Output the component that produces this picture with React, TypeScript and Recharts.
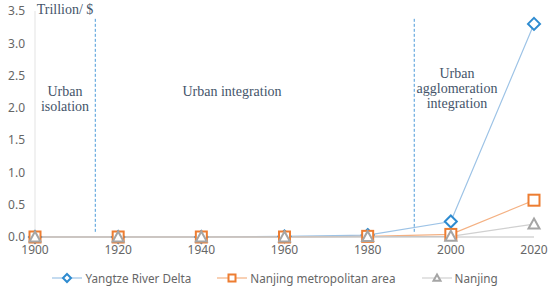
import React from "react";
import { LineChart, Line, XAxis, YAxis, ReferenceLine } from "recharts";

const YEARS = [1900, 1920, 1940, 1960, 1980, 2000, 2020];
const YANGTZE = [0, 0, 0, 0.01, 0.03, 0.24, 3.3];
const NANJING_MA = [0, 0, 0, 0, 0.01, 0.04, 0.57];
const NANJING = [0, 0, 0, 0, 0.005, 0.01, 0.2];
const Y_TICKS = [0, 0.5, 1, 1.5, 2, 2.5, 3, 3.5];
const PHASE_BREAKS = [1914.5, 1991.2];

const data = YEARS.map((year, i) => ({
  year,
  yrd: YANGTZE[i],
  nma: NANJING_MA[i],
  nj: NANJING[i],
}));

const TICK = { fontSize: 12, fill: "#666", fontFamily: "Noto Sans" };
const SERIF = "'Liberation Serif', 'DejaVu Serif', serif";
const NOTE = "#44546a";

const SERIES = [
  { key: "yrd", name: "Yangtze River Delta", line: "#9dc3e6", mark: "#2e8bd0", shape: "diamond" },
  { key: "nma", name: "Nanjing metropolitan area", line: "#f4b183", mark: "#ed7d31", shape: "square" },
  { key: "nj", name: "Nanjing", line: "#d0d0d0", mark: "#a5a5a5", shape: "triangle" },
];

function Marker({ cx, cy, shape, color, size = 5.5 }: any) {
  if (cx == null || cy == null) return null;
  if (shape === "diamond") {
    const s = size + 0.5;
    return <path d={`M${cx},${cy - s}L${cx + s},${cy}L${cx},${cy + s}L${cx - s},${cy}Z`} fill="#fff" stroke={color} strokeWidth={2} />;
  }
  if (shape === "square") {
    return <rect x={cx - size} y={cy - size} width={size * 2} height={size * 2} fill="#fff" stroke={color} strokeWidth={2} />;
  }
  return <path d={`M${cx},${cy - size}L${cx + size},${cy + size * 0.8}L${cx - size},${cy + size * 0.8}Z`} fill="#fff" stroke={color} strokeWidth={2} />;
}

const note = (left: number, top: number, lines: string[]) => (
  <div
    style={{
      position: "absolute", left, top, transform: "translateX(-50%)", textAlign: "center",
      fontFamily: SERIF, fontSize: 14, lineHeight: "15px", color: NOTE, whiteSpace: "nowrap",
    }}
  >
    {lines.map((l) => <div key={l}>{l}</div>)}
  </div>
);

export default function App() {
  return (
    <div style={{ position: "absolute", left: 0, top: 0, width: 550, height: 290, background: "#fff" }}>
      <LineChart width={550} height={290} data={data} margin={{ top: 11, right: 16, left: 0, bottom: 33 }}>
        <XAxis
          dataKey="year" type="number" domain={[1900, 2020]} ticks={YEARS}
          tick={TICK} tickLine={false} axisLine={{ stroke: "#bfbfbf" }} height={20} tickMargin={2}
        />
        <YAxis
          type="number" domain={[0, 3.5]} ticks={Y_TICKS} tickFormatter={(v: number) => v.toFixed(1)}
          tick={TICK} tickLine={false} axisLine={{ stroke: "#e3e3e3" }} width={35} tickMargin={4}
        />
        {PHASE_BREAKS.map((x) => (
          <ReferenceLine
            key={x}
            segment={[{ x, y: 0.08 }, { x, y: 3.4 }]}
            stroke="#4a9ad8" strokeDasharray="3 2" strokeWidth={1}
          />
        ))}
        {SERIES.map((s) => (
          <Line
            key={s.key} dataKey={s.key} name={s.name} stroke={s.line} strokeWidth={1.2}
            isAnimationActive={false}
            dot={(p: any) => <Marker key={`${s.key}-${p.index}`} cx={p.cx} cy={p.cy} shape={s.shape} color={s.mark} />}
          />
        ))}
      </LineChart>
      {note(65, 2, ["Trillion/ $"])}
      {note(65, 84, ["Urban", "isolation"])}
      {note(232, 84, ["Urban integration"])}
      {note(457, 66, ["Urban", "agglomeration", "integration"])}
      <div
        style={{
          position: "absolute", top: 270, left: 0, width: 550, display: "flex", justifyContent: "center",
          gap: 26, fontFamily: "Noto Sans", fontSize: 11.7, color: "#666",
        }}
      >
        {SERIES.map((s) => (
          <div key={s.key} style={{ display: "flex", alignItems: "center", gap: 3 }}>
            <svg width={30} height={14}>
              <line x1={0} y1={7} x2={30} y2={7} stroke={s.line} strokeWidth={1.2} />
              <Marker cx={15} cy={7} shape={s.shape} color={s.mark} size={3.5} />
            </svg>
            <span>{s.name}</span>
          </div>
        ))}
      </div>
    </div>
  );
}
